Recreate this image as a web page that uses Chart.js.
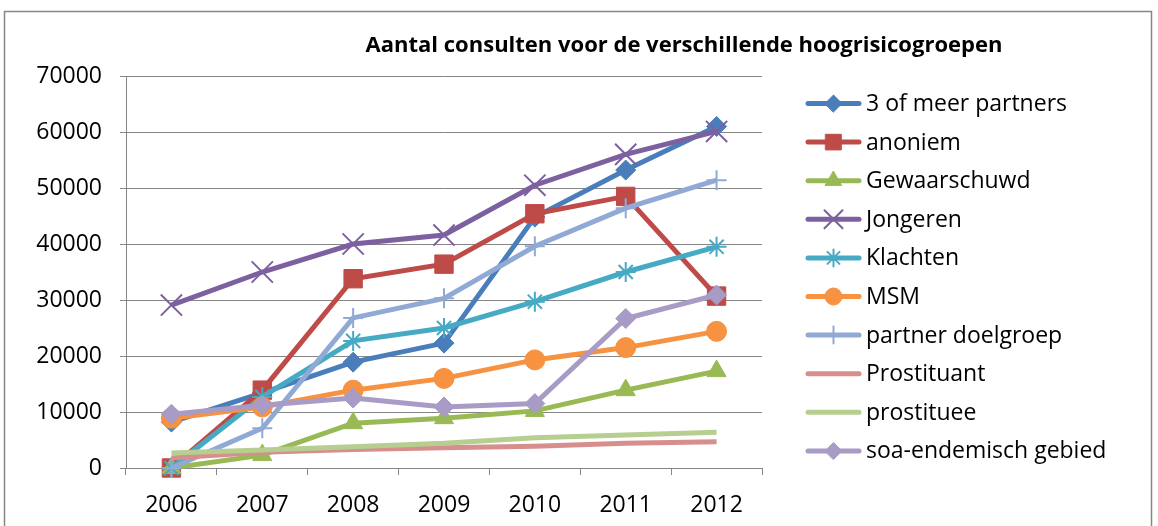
<!DOCTYPE html>
<html>
<head>
<meta charset="utf-8">
<script src="https://cdn.jsdelivr.net/npm/chart.js@4/dist/chart.umd.min.js"></script>
<style>
  html, body { margin: 0; padding: 0; background: #fff; }
  #wrap { width: 1158px; height: 526px; }
</style>
</head>
<body>
<div id="wrap"><canvas id="chart"></canvas></div>
<script>
// values
const years = ["2006", "2007", "2008", "2009", "2010", "2011", "2012"];
const yTicks = [0, 10000, 20000, 30000, 40000, 50000, 60000, 70000];

const partners3 = [8200, 13400, 18900, 22300, 44800, 53200, 61000];
const anoniem = [0, 13900, 33800, 36400, 45400, 48500, 30700];
const gewaarschuwd = [0, 2300, 8000, 8900, 10200, 13900, 17300];
const jongeren = [29100, 35000, 40000, 41600, 50500, 56000, 60100];
const klachten = [0, 12700, 22700, 25000, 29700, 35000, 39500];
const msm = [8900, 10900, 13900, 16000, 19300, 21500, 24400];
const partnerDoelgroep = [0, 7100, 26800, 30300, 39600, 46400, 51400];
const prostituant = [1800, 2800, 3300, 3600, 3900, 4400, 4700];
const prostituee = [2700, 3200, 3800, 4400, 5400, 5900, 6400];
const soaEndemisch = [9600, 11200, 12500, 10900, 11500, 26700, 30900];

const chartTitle = "Aantal consulten voor de verschillende hoogrisicogroepen";

function series(label, data, color, style, radius, borderWidth) {
  return {
    label, data,
    borderColor: color,
    backgroundColor: color,
    pointBackgroundColor: color,
    pointBorderColor: color,
    pointStyle: style || false,
    pointRadius: style ? radius : 0,
    pointBorderWidth: borderWidth || 1,
    borderWidth: 5,
    tension: 0,
    clip: false,
  };
}

const datasets = [
  series("3 of meer partners", partners3, "#4A7EBB", "rectRot", 10, 1),
  series("anoniem", anoniem, "#BE4B48", "rect", 13, 1),
  series("Gewaarschuwd", gewaarschuwd, "#98B954", "triangle", 11, 1),
  series("Jongeren", jongeren, "#7D60A0", "crossRot", 15, 2),
  series("Klachten", klachten, "#46AAC5", "star", 10, 2),
  series("MSM", msm, "#F69240", "circle", 10, 1),
  series("partner doelgroep", partnerDoelgroep, "#91A9D5", "cross", 10, 2),
  series("Prostituant", prostituant, "#D68F8D", null),
  series("prostituee", prostituee, "#B6CE8F", null),
  series("soa-endemisch gebied", soaEndemisch, "#A89BC6", "rectRot", 10, 1),
];
// later series are painted on top, like the original
datasets.forEach((d, i) => { d.order = datasets.length - i; });

const framePlugin = {
  id: "frame",
  beforeDraw(chart) {
    const ctx = chart.ctx;
    ctx.save();
    ctx.fillStyle = "#fff";
    ctx.fillRect(0, 0, chart.width, chart.height);
    ctx.strokeStyle = "#868686";
    ctx.lineWidth = 1.5;
    ctx.strokeRect(4.5, 11.5, 1147, 540);
    ctx.restore();
  },
  afterDraw(chart) {
    const ctx = chart.ctx;
    ctx.save();
    ctx.fillStyle = "#000";
    ctx.font = "bold 22px 'Open Sans'";
    ctx.textAlign = "center";
    ctx.textBaseline = "middle";
    ctx.fillText(chartTitle, 684, 46);

    // legend: line sample with marker in the middle, then the name
    ctx.font = "23px 'Open Sans'";
    ctx.textAlign = "left";
    chart.data.datasets.forEach((ds, i) => {
      const y = 103.5 + i * 38.6;
      ctx.strokeStyle = ds.borderColor;
      ctx.lineWidth = 5;
      ctx.lineCap = "round";
      ctx.beginPath();
      ctx.moveTo(808, y);
      ctx.lineTo(859, y);
      ctx.stroke();
      if (ds.pointStyle) {
        ctx.fillStyle = ds.pointBackgroundColor;
        ctx.strokeStyle = ds.pointBorderColor;
        ctx.lineWidth = ds.pointBorderWidth;
        Chart.helpers.drawPoint(ctx, {
          pointStyle: ds.pointStyle,
          radius: ds.pointRadius * 0.85,
          borderWidth: ds.pointBorderWidth,
          rotation: 0,
        }, 833.5, y);
      }
      ctx.fillStyle = "#000";
      ctx.fillText(ds.label, 866, y + 1);
    });
    ctx.restore();
  },
};

Chart.defaults.font.family = "'Open Sans'";
Chart.defaults.color = "#000";

new Chart(document.getElementById("chart"), {
  type: "line",
  data: { labels: years, datasets },
  plugins: [framePlugin],
  options: {
    responsive: true,
    maintainAspectRatio: false,
    animation: false,
    events: [],
    layout: { padding: { top: 76, right: 396, left: 0, bottom: 0 } },
    plugins: { legend: { display: false }, title: { display: false }, tooltip: { enabled: false } },
    scales: {
      x: {
        offset: true,
        grid: { offset: true, drawOnChartArea: false, drawTicks: true, tickLength: 7, color: "#868686" },
        border: { color: "#868686", width: 1 },
        ticks: { font: { size: 23 }, padding: 17, maxRotation: 0 },
        afterFit(scale) { scale.height = 58; },
      },
      y: {
        min: 0,
        max: 70000,
        afterBuildTicks(scale) { scale.ticks = yTicks.map((v) => ({ value: v })); },
        grid: { color: "#868686", tickLength: 6 },
        border: { color: "#868686", width: 1 },
        ticks: { font: { size: 23 }, padding: 18, callback: (v) => String(v) },
        afterFit(scale) { scale.width = 126; },
      },
    },
  },
});
</script>
</body>
</html>
